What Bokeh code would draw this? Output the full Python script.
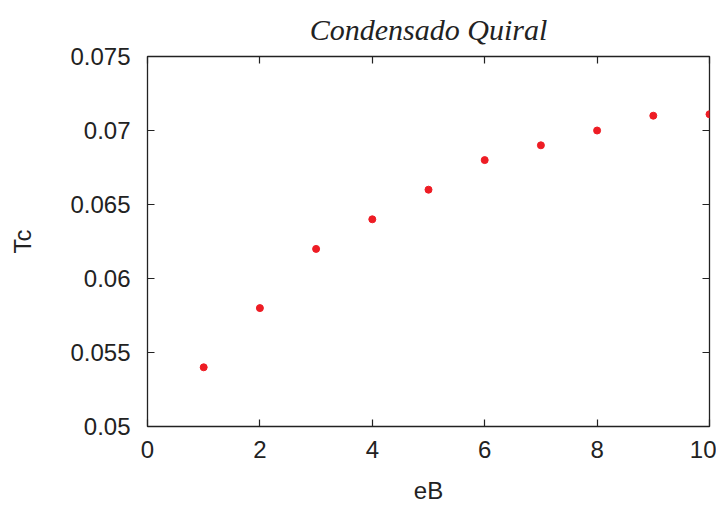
from bokeh.plotting import figure
from bokeh.models import LinearAxis, FixedTicker, Range1d
from bokeh.embed import file_html
from bokeh.resources import INLINE

eB = [1, 2, 3, 4, 5, 6, 7, 8, 9, 10]
Tc = [0.054, 0.058, 0.062, 0.064, 0.066, 0.068, 0.069, 0.070, 0.071, 0.0711]
x_ticks = [0, 2, 4, 6, 8, 10]
y_ticks = [0.05, 0.055, 0.06, 0.065, 0.07, 0.075]
y_tick_labels = ["0.05", "0.055", "0.06", "0.065", "0.07", "0.075"]
title_text = "Condensado Quiral"
x_label = "eB"
y_label = "Tc"

FONT = "Liberation Sans"

p = figure(width=716, height=506, output_backend="svg", toolbar_location=None,
           x_range=Range1d(0, 10), y_range=Range1d(0.05, 0.075),
           x_axis_type=None, y_axis_type=None,
           min_border_left=147, min_border_right=7, min_border_top=55, min_border_bottom=73)

p.title.text = title_text
p.title.text_font = "Liberation Serif"
p.title.text_font_style = "italic"
p.title.text_font_size = "30px"
p.title.align = "center"
p.title.text_color = "#222222"
p.title.standoff = 21

p.xgrid.visible = False
p.ygrid.visible = False
p.outline_line_color = "#222222"
p.outline_line_width = 1.3
p.background_fill_color = "white"
p.border_fill_color = "white"


def style(ax, ticks, labels=True):
    ax.axis_line_color = None
    ax.major_tick_in = 7
    ax.major_tick_out = 0
    ax.minor_tick_in = 0
    ax.minor_tick_out = 0
    ax.major_tick_line_color = "#222222"
    ax.major_tick_line_width = 1.2
    if labels:
        ax.major_label_text_font = FONT
        ax.major_label_text_font_size = "24px"
        ax.major_label_text_color = "#222222"
        ax.axis_label_text_font = FONT
        ax.axis_label_text_font_size = "24px"
        ax.axis_label_text_font_style = "normal"
        ax.axis_label_text_color = "#222222"
    else:
        ax.major_label_overrides = {t: "" for t in ticks}
        ax.major_label_standoff = 0


xb = LinearAxis(ticker=FixedTicker(ticks=x_ticks), axis_label=x_label)
style(xb, x_ticks)
xb.major_label_standoff = 14
xb.axis_label_standoff = 16
p.add_layout(xb, "below")

yl = LinearAxis(ticker=FixedTicker(ticks=y_ticks), axis_label=y_label)
style(yl, y_ticks)
yl.major_label_overrides = {t: s for t, s in zip(y_ticks, y_tick_labels)}
yl.major_label_standoff = 17
yl.axis_label_standoff = 31
p.add_layout(yl, "left")

xt = LinearAxis(ticker=FixedTicker(ticks=x_ticks))
style(xt, x_ticks, labels=False)
p.add_layout(xt, "above")

yr = LinearAxis(ticker=FixedTicker(ticks=y_ticks))
style(yr, y_ticks, labels=False)
p.add_layout(yr, "right")

p.scatter(eB, Tc, size=7, color="#ee1c24", line_color="#ee1c24")

open("out.html", "w").write(file_html(p, INLINE))
